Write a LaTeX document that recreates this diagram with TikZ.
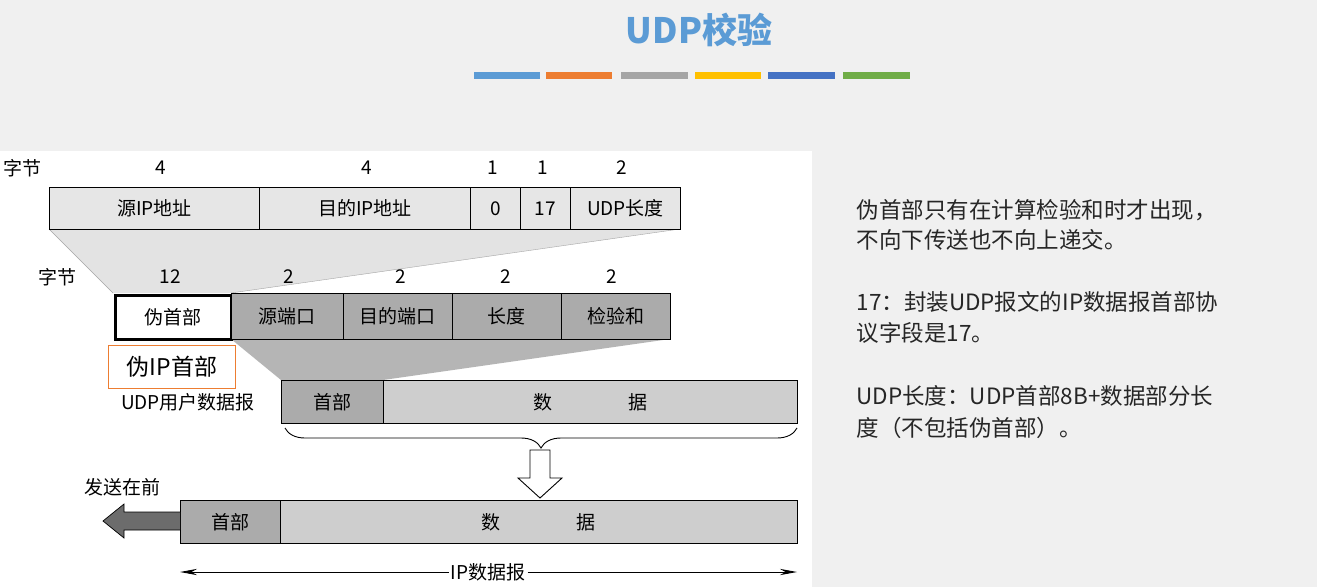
\documentclass[tikz,border=0pt]{standalone}
\usepackage{fontspec}
\usepackage{tikz}
\usetikzlibrary{arrows.meta,positioning,decorations.pathreplacing}
\newfontfamily\cjk{Noto Sans CJK SC}
\definecolor{titleblue}{HTML}{5B9BD5}
\definecolor{barorange}{HTML}{ED7D31}
\definecolor{bargray}{HTML}{A5A5A5}
\definecolor{baryellow}{HTML}{FFC000}
\definecolor{bardarkblue}{HTML}{4472C4}
\definecolor{bargreen}{HTML}{70AD47}
\definecolor{pagegray}{HTML}{F0F0F0}
\definecolor{celllight}{HTML}{E6E6E6}
\definecolor{cellmid}{HTML}{ABABAB}
\definecolor{celldata}{HTML}{CECECE}
\definecolor{fanlight}{HTML}{E3E3E3}
\definecolor{fandark}{HTML}{B5B5B5}
\definecolor{boxorange}{HTML}{ED7D31}
\definecolor{bodytext}{HTML}{262626}

\tikzset{
  cell/.style={draw, line width=0.9pt, inner sep=0pt, anchor=north west,
    font=\cjk\fontsize{19}{19}\selectfont},
  toprow/.style={cell, fill=celllight, minimum height=42},
  midrow/.style={cell, fill=cellmid, minimum height=46},
  bytelabel/.style={font=\cjk\fontsize{19}{19}\selectfont},
  notetext/.style={anchor=west, font=\cjk\fontsize{22.5}{22.5}\selectfont, color=bodytext}
}

\begin{document}
\begin{tikzpicture}[x=1pt, y=-1pt]
    % page
    \fill[pagegray] (0,0) rectangle (1317,587);
    \useasboundingbox (0,0) rectangle (1317,587);
    \fill[white] (0,151) rectangle (812,587);

    % title and colour bars
    \node[font=\cjk\bfseries\fontsize{35}{35}\selectfont, color=titleblue] (title) at (699,30) {UDP校验};
    \fill[titleblue] (474,72) rectangle (540,79);
    \fill[barorange] (546,72) rectangle (612,79);
    \fill[bargray] (621,72) rectangle (688,79);
    \fill[baryellow] (695,72) rectangle (761,79);
    \fill[bardarkblue] (768,72) rectangle (835,79);
    \fill[bargreen] (843,72) rectangle (910,79);

    % fans
    \fill[fanlight] (49,229) -- (680,229) -- (231,293) -- (113,293) -- cycle;
    \fill[fandark] (231,339) -- (670,339) -- (383,380) -- (281,380) -- cycle;
    \draw[gray!70] (49,229) -- (113,293);
    \draw[gray!70] (680,229) -- (231,293);

    % pseudo header
    \node[bytelabel] (byteA) at (22,168) {字节};
    \node[bytelabel] (nA1) at (161,168) {4};
    \node[bytelabel] (nA2) at (367,168) {4};
    \node[bytelabel] (nA3) at (493,168) {1};
    \node[bytelabel] (nA4) at (543,168) {1};
    \node[bytelabel] (nA5) at (622,168) {2};
    \node[toprow, minimum width=210] (srcip) at (49,187) {源IP地址};
    \node[toprow, minimum width=211] (dstip) at (259,187) {目的IP地址};
    \node[toprow, minimum width=50] (zero) at (470,187) {0};
    \node[toprow, minimum width=50] (proto) at (520,187) {17};
    \node[toprow, minimum width=110] (udplen) at (570,187) {UDP长度};

    % UDP header
    \node[bytelabel] (byteB) at (57,277) {字节};
    \node[bytelabel] (nB1) at (170,277) {12};
    \node[bytelabel] (nB2) at (289,277) {2};
    \node[bytelabel] (nB3) at (401,277) {2};
    \node[bytelabel] (nB4) at (506,277) {2};
    \node[bytelabel] (nB5) at (612,277) {2};
    \node[cell, fill=white, line width=2.5pt, minimum width=116, minimum height=44] (pseudo) at (114,294) {伪首部};
    \node[midrow, minimum width=112] (srcport) at (231,293) {源端口};
    \node[midrow, minimum width=109] (dstport) at (343,293) {目的端口};
    \node[midrow, minimum width=109] (length) at (452,293) {长度};
    \node[midrow, minimum width=109] (checksum) at (561,293) {检验和};
    \node[draw=boxorange, line width=1pt, anchor=north west, minimum width=127, minimum height=43,
      font=\cjk\fontsize{23}{23}\selectfont] (pseudoip) at (108,345) {伪IP首部};

    % UDP datagram
    \node[bytelabel] (udpname) at (188,402) {UDP用户数据报};
    \node[cell, fill=cellmid, minimum width=102, minimum height=43] (udphead) at (281,380) {首部};
    \node[cell, fill=celldata, minimum width=414, minimum height=43] (udpdata) at (383,380) {数\hspace{4em}据};
    \draw[decorate, decoration={brace, amplitude=20pt}, line width=0.9pt]
      (797,428) -- coordinate[pos=0.5] (bracetip) (285,428);
    \draw[fill=white, line width=0.9pt] (530,450) -- (550,450) -- (550,478) -- (562,478) -- (540,498)
      -- (518,478) -- (530,478) -- cycle;

    % IP datagram
    \node[bytelabel] (sendfirst) at (122,487) {发送在前};
    \node[cell, fill=cellmid, minimum width=100, minimum height=43] (iphead) at (180,500) {首部};
    \node[cell, fill=celldata, minimum width=517, minimum height=43] (ipdata) at (280,500) {数\hspace{4em}据};
    \draw[fill=gray!85!black, line width=0.7pt] (180,512) -- (124,512) -- (124,504) -- (103,521)
      -- (124,538) -- (124,530) -- (180,530);
    \node[bytelabel, fill=white, inner sep=2pt] (iplabel) at (488,572) {IP数据报};
    \draw[-{Stealth[length=6mm, width=2.2mm]}, line width=0.9pt] (iplabel) -- (797,572);
    \draw[-{Stealth[length=6mm, width=2.2mm]}, line width=0.9pt] (iplabel) -- (180,572);

    % notes
    \node[notetext] (note1) at (853,210) {伪首部只有在计算检验和时才出现，};
    \node[notetext] (note2) at (853,240) {不向下传送也不向上递交。};
    \node[notetext] (note3) at (853,302) {17：封装UDP报文的IP数据报首部协};
    \node[notetext] (note4) at (853,333) {议字段是17。};
    \node[notetext] (note5) at (853,396) {UDP长度：UDP首部8B+数据部分长};
    \node[notetext] (note6) at (853,428) {度（不包括伪首部）。};
\end{tikzpicture}
\end{document}
